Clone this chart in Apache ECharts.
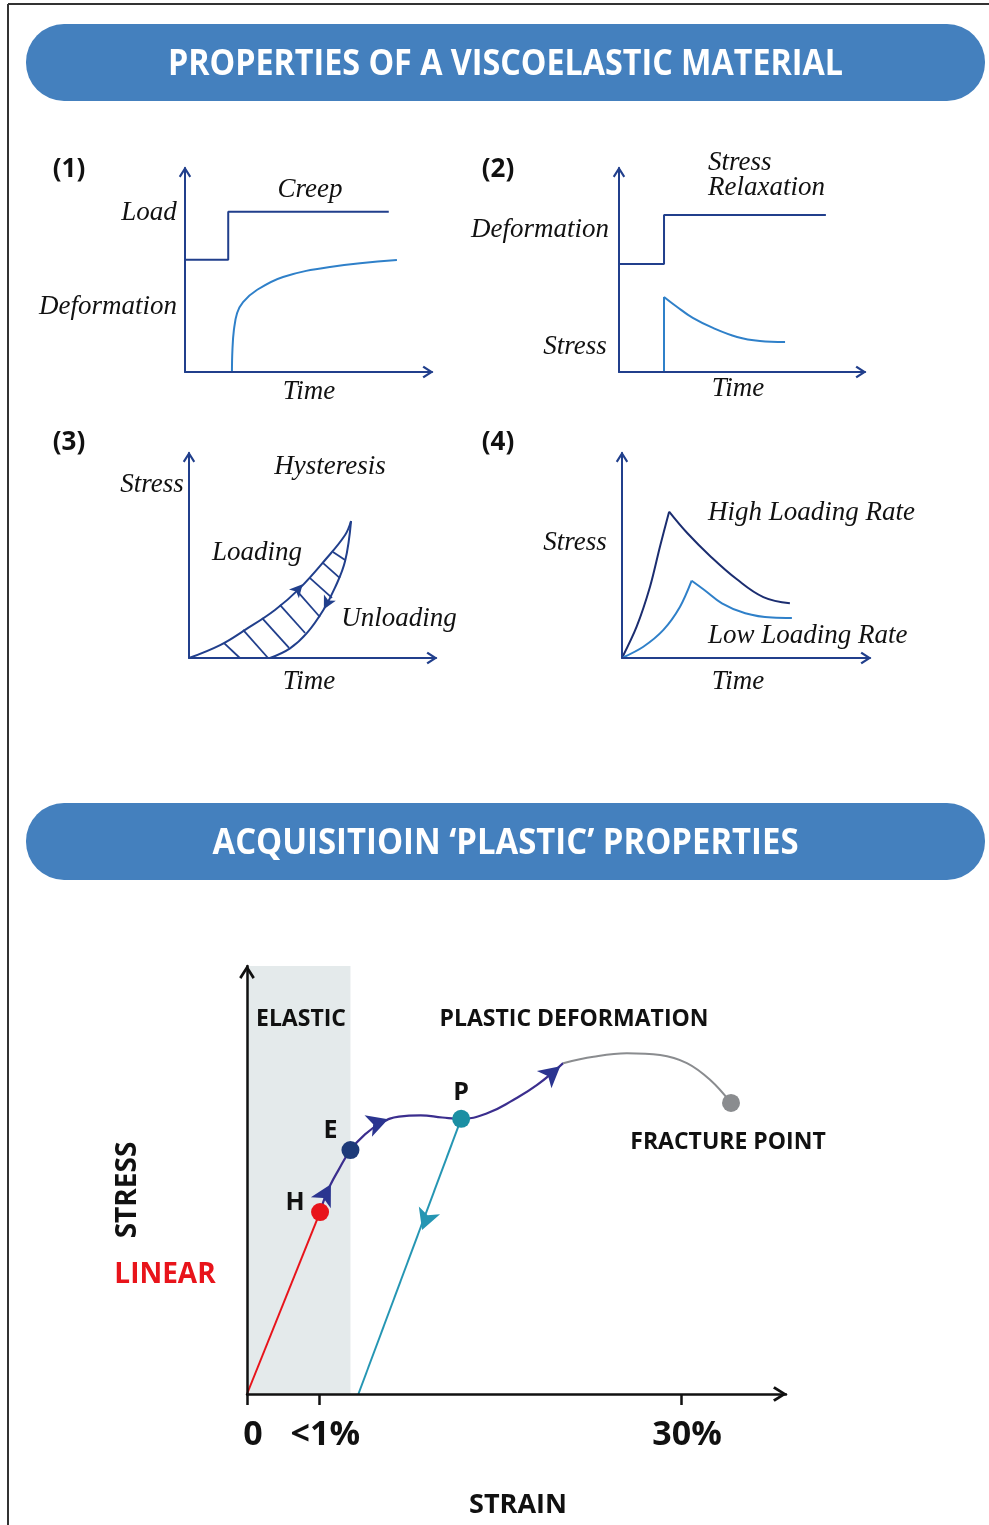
<!DOCTYPE html>
<html><head><meta charset="utf-8">
<script src="https://cdn.jsdelivr.net/npm/echarts@6/dist/echarts.min.js"></script>
<style>html,body{margin:0;padding:0;background:#fff}#c{width:989px;height:1525px}</style>
</head><body><div id="c"></div>
<script>
// ---------- DATA (normalised units) ----------
// Panel 1: Creep
const p1Load  = [[0,5.5],[1.75,5.5],[1.75,7.85],[8.25,7.85]];
const p1Creep = [[1.90,0],[1.92,1.08],[1.98,2.06],[2.11,2.89],[2.35,3.43],[2.91,4.02],[3.97,4.66],[5.87,5.15],[8.58,5.49]];
// Panel 2: Stress relaxation
const p2Deform      = [[0,5.29],[1.83,5.29],[1.83,7.70],[8.41,7.70]];
const p2StressRise  = [[1.83,0],[1.83,3.68]];
const p2StressDecay = [[1.83,3.68],[2.35,3.20],[3.0,2.65],[3.82,2.16],[4.8,1.72],[5.73,1.52],[6.75,1.47]];
// Panel 3: Hysteresis
const p3Loading   = [[0,0],[1.26,0.63],[2.27,1.37],[3.48,2.34],[4.49,3.41],[5.51,4.78],[6.32,6.0],[6.56,6.68]];
const p3Unloading = [[6.56,6.68],[6.32,4.73],[5.91,3.43],[5.44,2.34],[4.77,1.21],[4.09,0.47],[3.28,0]];
const p3Hatch = [
  [[1.42,0.73],[2.06,0]], [[2.19,1.37],[3.20,0]], [[2.96,1.95],[4.05,0.49]], [[3.68,2.59],[4.70,1.22]],
  [[4.37,3.27],[5.30,2.0]], [[4.90,3.90],[5.79,2.93]], [[5.43,4.63],[6.11,3.90]], [[5.83,5.17],[6.32,4.78]]
];
const p3LoadArrow   = [4.6,3.6];
const p3UnloadArrow = [5.46,2.38];
// Panel 4: loading rate
const p4HighRise  = [[0,0],[0.59,1.53],[1.13,3.48],[1.53,5.43],[1.90,7.14]];
const p4HighDecay = [[1.90,7.14],[2.62,6.11],[3.55,4.98],[4.62,3.85],[5.70,2.97],[6.77,2.67]];
const p4LowRise   = [[0,0],[0.86,0.55],[1.67,1.37],[2.34,2.50],[2.81,3.77]];
const p4LowDecay  = [[2.81,3.77],[3.32,3.32],[4.03,2.67],[4.97,2.18],[6.05,1.97],[6.85,1.95]];
// Bottom: stress-strain
const strainTicks      = [0, 1, 6];
const strainTickLabels = ['0', '<1%', '30%'];
const elasticLimit = 1.43;
const linearPath   = [[0,0],[1.01,4.25]];
const plasticPath  = [[1.01,4.25],[1.08,4.61],[1.15,4.88],[1.26,5.22],[1.43,5.70],[1.62,6.05],[1.86,6.34],[2.10,6.48],[2.40,6.51],[2.70,6.46],[2.96,6.43],[3.32,6.56],[3.68,6.87],[4.01,7.22],[4.37,7.73]];
const fracturePath = [[4.37,7.73],[4.79,7.88],[5.25,7.96],[5.71,7.92],[6.08,7.73],[6.40,7.34],[6.69,6.80]];
const unloadPath   = [[2.96,6.43],[1.54,0]];
const pointNames   = ['H','E','P','FRACTURE POINT'];
const pointValues  = [[1.01,4.25],[1.43,5.70],[2.96,6.43],[6.69,6.80]];
const plasticArrows = [[1.16,4.90],[1.95,6.42],[4.33,7.66]];
const unloadArrow   = [2.42,3.83];

// ---------- STYLE ----------
const NAVY = '#213f8c', LIGHT = '#2f80c9', DARKNAVY = '#1b2d70';
const PURPLE = '#3b2e8e', TEAL = '#2596b3', GREY = '#8a8c8f', RED = '#e8141b';
const CHEV = 'path://M0,11 L7,0 L14,11 L12,12.5 L7,4.5 L2,12.5 Z';
const SERIF = 'italic 27px "Liberation Serif"';
const SANSB = s => 'bold ' + s + 'px "Open Sans"';

const grids = [
  {left:185, top:168, width:247, height:204},
  {left:619, top:168, width:246, height:204},
  {left:189, top:453, width:247, height:205},
  {left:622, top:453, width:248, height:205},
  {left:247, top:966, width:539, height:428}
].map(g => Object.assign({outerBoundsMode:'none', containLabel:false, show:false}, g));

function axis(gi, max, color, width, sym, extra) {
  return Object.assign({
    type:'value', gridIndex:gi, min:0, max:max, z:5,
    axisLine:{show:true, onZero:false, symbol:['none', sym], symbolSize:[13,11], symbolOffset:[0,-4],
      lineStyle:{color:color, width:width}},
    axisTick:{show:false}, axisLabel:{show:false}, splitLine:{show:false}
  }, extra || {});
}
const xAxes = [0,1,2,3].map(i => axis(i, 10, NAVY, 2, CHEV));
const yAxes = [0,1,2,3].map(i => axis(i, 10, NAVY, 2, CHEV));
xAxes.push(axis(4, 7.45, '#111', 2.5, CHEV, {
  axisLine:{show:true, onZero:false, symbol:['none', CHEV], symbolSize:[20,14], symbolOffset:[0,-6], lineStyle:{color:'#111', width:2.5}},
  axisTick:{show:true, customValues:strainTicks, length:11, lineStyle:{color:'#111', width:2.5}},
  axisLabel:{show:true, customValues:strainTicks, margin:24, fontSize:34, fontWeight:'bold', color:'#111', fontFamily:'Open Sans',
    padding:[0,0,0,12], formatter: v => strainTickLabels[strainTicks.indexOf(v)] }
}));
yAxes.push(axis(4, 10, '#111', 2.5, CHEV, {
  axisLine:{show:true, onZero:false, symbol:['none', CHEV], symbolSize:[20,14], symbolOffset:[0,-6], lineStyle:{color:'#111', width:2.5}}
}));

function line(gi, data, color, width, smooth, extra) {
  return Object.assign({type:'line', xAxisIndex:gi, yAxisIndex:gi, data:data, symbol:'none', showSymbol:false,
    smooth: smooth || false, lineStyle:{color:color, width:width}, silent:true, z:3}, extra || {});
}

const series = [];
series.push(line(0, p1Load, NAVY, 2));
series.push(line(0, p1Creep, LIGHT, 2, 0.4));
series.push(line(1, p2Deform, NAVY, 2));
series.push(line(1, p2StressRise, LIGHT, 2));
series.push(line(1, p2StressDecay, LIGHT, 2, 0.4));
series.push(line(2, p3Loading, NAVY, 2, 0.4));
series.push(line(2, p3Unloading, NAVY, 2, 0.4));
p3Hatch.forEach(h => series.push(line(2, h, NAVY, 1.8)));
series.push(line(3, p4HighRise, DARKNAVY, 2, 0.3));
series.push(line(3, p4HighDecay, DARKNAVY, 2, 0.4));
series.push(line(3, p4LowRise, LIGHT, 2, 0.3));
series.push(line(3, p4LowDecay, LIGHT, 2, 0.4));
// bottom
series.push(line(4, [[0,0],[0,0]], 'rgba(0,0,0,0)', 0, false, {
  markArea:{silent:true, itemStyle:{color:'#e4eaeb'}, data:[[{xAxis:0},{xAxis:elasticLimit}]]}, z:1}));
series.push(line(4, linearPath, RED, 2));
series.push(line(4, plasticPath, PURPLE, 2.2, 0.45));
series.push(line(4, fracturePath, GREY, 2, 0.4));
series.push(line(4, unloadPath, TEAL, 2));

// arrows (rotation computed from curve tangents after layout)
const arrowSpecs = [
  {gi:2, at:p3LoadArrow, path:p3Loading, color:NAVY, size:[10,13]},
  {gi:2, at:p3UnloadArrow, path:p3Unloading, color:NAVY, size:[10,13]},
  {gi:4, at:plasticArrows[0], path:plasticPath, color:'#2b3590', size:[17,21]},
  {gi:4, at:plasticArrows[1], path:plasticPath, color:'#2b3590', size:[17,21]},
  {gi:4, at:plasticArrows[2], path:plasticPath, color:'#2b3590', size:[17,21]},
  {gi:4, at:unloadArrow, path:unloadPath, color:TEAL, size:[17,21]}
];
const arrowSeriesStart = series.length;
arrowSpecs.forEach(a => series.push({type:'scatter', xAxisIndex:a.gi, yAxisIndex:a.gi, silent:true, z:6,
  symbol:'arrow', symbolSize:a.size, itemStyle:{color:a.color, opacity:1}, data:[{value:a.at, symbolRotate:0}]}));

const ptColors = [RED, '#1d3a78', '#1b8fa3', GREY];
const ptLabelOffsets = [[-25,-9],[-20,-19],[0,-26],[-3,39]];
series.push({type:'scatter', xAxisIndex:4, yAxisIndex:4, silent:true, z:7, symbolSize:18, itemStyle:{opacity:1},
  data: pointValues.map((v,i) => ({name:pointNames[i], value:v, itemStyle:{color:ptColors[i], opacity:1},
    label:{show:true, position:'inside', offset:ptLabelOffsets[i], formatter:'{b}', color:'#111', opacity:1,
      textBorderWidth:0, fontSize: i===3 ? 23 : 25, fontWeight:'bold', fontFamily:'Open Sans'}}))});

// ---------- TEXT / DECOR ----------
function measure(text, font) {
  const c = document.createElement('canvas').getContext('2d'); c.font = font; return c.measureText(text).width;
}
function T(text, x, y, font, extra) {
  return Object.assign({type:'text', x:x, y:y, silent:true, z:10,
    style:{text:text, font:font, fill:'#111', textAlign:'center', textVerticalAlign:'middle', align:'center', verticalAlign:'middle'}}, extra || {});
}
function TL(text, x, y, font) {
  const t = T(text, x, y, font); t.style.textAlign = 'left'; t.style.align = 'left'; return t;
}
function banner(y, text, targetW) {
  const font = SANSB(36);
  const s = targetW / measure(text, font);
  return [
    {type:'rect', silent:true, z:1, shape:{x:26, y:y, width:959, height:77, r:38}, style:{fill:'#4480be'}},
    T(text, 505.5, y + 41, font, {scaleX:s, z:11, style:{text:text, font:font, fill:'#fff', textAlign:'center', textVerticalAlign:'middle', align:'center', verticalAlign:'middle'}})
  ];
}
const graphic = [].concat(
  [{type:'line', silent:true, shape:{x1:8, y1:4, x2:989, y2:4}, style:{stroke:'#333', lineWidth:2}},
   {type:'line', silent:true, shape:{x1:8, y1:4, x2:8, y2:1525}, style:{stroke:'#333', lineWidth:2}}],
  banner(24, 'PROPERTIES OF A VISCOELASTIC MATERIAL', 675),
  banner(803, 'ACQUISITIOIN \u2018PLASTIC\u2019 PROPERTIES', 586),
  [
    T('(1)', 69, 170, SANSB(26)), T('(2)', 498, 170, SANSB(26)), T('(3)', 69, 443, SANSB(26)), T('(4)', 498, 443, SANSB(26)),
    T('Load', 149, 213, SERIF), T('Creep', 310, 190, SERIF), T('Deformation', 108, 307, SERIF), T('Time', 309, 392, SERIF),
    TL('Stress', 708, 163, SERIF), TL('Relaxation', 708, 188, SERIF), T('Deformation', 540, 230, SERIF),
    T('Stress', 575, 347, SERIF), T('Time', 738, 389, SERIF),
    T('Stress', 152, 485, SERIF), T('Hysteresis', 330, 467, SERIF), T('Loading', 257, 553, SERIF),
    T('Unloading', 399, 619, SERIF), T('Time', 309, 682, SERIF),
    T('Stress', 575, 543, SERIF), TL('High Loading Rate', 708, 513, SERIF), TL('Low Loading Rate', 708, 636, SERIF),
    T('Time', 738, 682, SERIF),
    T('ELASTIC', 301, 1019, SANSB(23)), T('PLASTIC DEFORMATION', 574, 1019, SANSB(23)),
    T('STRESS', 128, 1190, SANSB(28), {rotation: Math.PI/2}),
    T('LINEAR', 165, 1275, SANSB(28), {style:{text:'LINEAR', font:SANSB(28), fill:RED, textAlign:'center', textVerticalAlign:'middle', align:'center', verticalAlign:'middle'}}),
    T('STRAIN', 518, 1505, SANSB(27))
  ]
);

const chart = echarts.init(document.getElementById('c'), null, {renderer:'canvas'});
chart.setOption({backgroundColor:'#fff', animation:false, grid:grids, xAxis:xAxes, yAxis:yAxes, series:series, graphic:graphic});

// orient arrows along their curves
const upd = arrowSpecs.map(a => {
  const px = a.path.map(p => chart.convertToPixel({gridIndex:a.gi}, p));
  const ap = chart.convertToPixel({gridIndex:a.gi}, a.at);
  let best = 0, bd = Infinity;
  for (let i = 0; i < px.length - 1; i++) {
    const mx = (px[i][0]+px[i+1][0])/2, my = (px[i][1]+px[i+1][1])/2;
    const d = (mx-ap[0])**2 + (my-ap[1])**2;
    if (d < bd) { bd = d; best = i; }
  }
  const dx = px[best+1][0]-px[best][0], dy = px[best+1][1]-px[best][1];
  const ang = Math.atan2(-dy, dx) * 180 / Math.PI;
  return {data:[{value:a.at, symbolRotate: ang - 90}]};
});
const patch = series.map(() => ({}));
upd.forEach((u,i) => patch[arrowSeriesStart+i] = u);
chart.setOption({series:patch});
</script></body></html>
